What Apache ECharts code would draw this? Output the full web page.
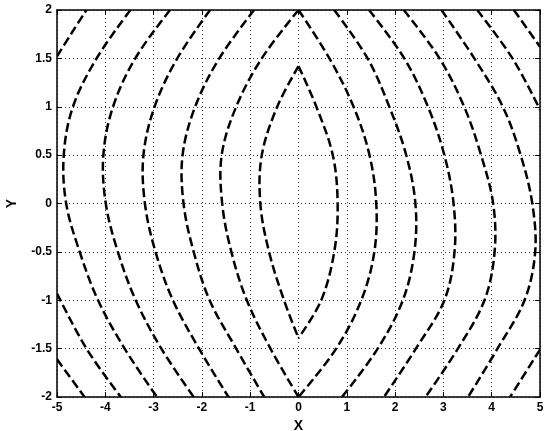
<!DOCTYPE html>
<html>
<head>
<meta charset="utf-8">
<script src="https://cdn.jsdelivr.net/npm/echarts@6/dist/echarts.min.js"></script>
<style>
  html, body { margin: 0; padding: 0; background: #fff; }
  #chart { width: 544px; height: 431px; }
</style>
</head>
<body>
<div id="chart"></div>
<script>
// contour lines, as [x, y] points
const lensLeft  = [[0, 1.42], [-0.44, 1], [-0.76, 0.5], [-0.79, 0], [-0.61, -0.5], [-0.30, -1], [0, -1.39]];
const lensRight = [[0, 1.42], [0.37, 1], [0.71, 0.5], [0.81, 0], [0.74, -0.5], [0.47, -1], [0, -1.39]];
const left2  = [[0, 2], [-0.76, 1.5], [-1.29, 1], [-1.59, 0.5], [-1.58, 0], [-1.39, -0.5], [-1.07, -1], [-0.58, -1.5], [0, -2]];
const right2 = [[0, 2], [0.64, 1.5], [1.14, 1], [1.47, 0.5], [1.61, 0], [1.57, -0.5], [1.30, -1], [0.78, -1.5], [0, -2]];
const left3  = [[-0.92, 2], [-1.64, 1.5], [-2.14, 1], [-2.40, 0.5], [-2.38, 0], [-2.17, -0.5], [-1.84, -1], [-1.29, -1.5], [-0.71, -2]];
const right3 = [[0.74, 2], [1.43, 1.5], [1.88, 1], [2.23, 0.5], [2.42, 0], [2.40, -0.5], [2.16, -1], [1.64, -1.5], [0.90, -2]];
const left4  = [[-1.83, 2], [-2.51, 1.5], [-2.98, 1], [-3.21, 0.5], [-3.18, 0], [-2.96, -0.5], [-2.60, -1], [-2.06, -1.5], [-1.45, -2]];
const right4 = [[1.46, 2], [2.19, 1.5], [2.68, 1], [3.02, 0.5], [3.21, 0], [3.23, -0.5], [3.02, -1], [2.43, -1.5], [1.77, -2]];
const left5  = [[-2.66, 2], [-3.38, 1.5], [-3.84, 1], [-4.04, 0.5], [-3.99, 0], [-3.74, -0.5], [-3.37, -1], [-2.84, -1.5], [-2.17, -2]];
const right5 = [[2.18, 2], [2.92, 1.5], [3.43, 1], [3.78, 0.5], [4.03, 0], [4.06, -0.5], [3.85, -1], [3.30, -1.5], [2.63, -2]];
const left6  = [[-3.48, 2], [-4.18, 1.5], [-4.67, 1], [-4.86, 0.5], [-4.81, 0], [-4.53, -0.5], [-4.15, -1], [-3.60, -1.5], [-2.93, -2]];
const right6 = [[2.96, 2], [3.64, 1.5], [4.23, 1], [4.60, 0.5], [4.84, 0], [4.90, -0.5], [4.68, -1], [4.12, -1.5], [3.51, -2]];
const left7top    = [[-5, 1.52], [-4.70, 1.76], [-4.39, 2]];
const left7bottom = [[-5, -0.93], [-4.39, -1.5], [-3.68, -2]];
const right7top    = [[3.70, 2], [4.43, 1.5], [5, 0.97]];
const right7bottom = [[5, -1.51], [4.38, -2]];
const left8  = [[-5, -1.61], [-4.43, -2]];
const right8 = [[4.46, 2], [5, 1.62]];

const curves = [lensLeft, lensRight, left2, right2, left3, right3, left4, right4,
  left5, right5, left6, right6, left7top, left7bottom, right7top, right7bottom, left8, right8];

const xTicks = { min: -5, max: 5, step: 1 };
const yTicks = { min: -2, max: 2, step: 0.5 };

const font = 'Liberation Sans, Arial, sans-serif';
const myChart = echarts.init(document.getElementById('chart'));

const grid = { left: 57, right: 4, top: 10, bottom: 34, containLabel: false, outerBoundsMode: 'none' };
const tickStyle = { show: true, inside: true, length: 5, lineStyle: { color: '#000', width: 1 } };
const boxLine = { show: true, onZero: false, lineStyle: { color: '#000', width: 1.5 } };
const dotted = { show: true, lineStyle: { color: '#333', width: 1, type: [1, 3] } };
const labelStyle = { color: '#000', fontFamily: font, fontWeight: 'bold', fontSize: 12 };

// one smooth dashed path per contour piece, placed through the grid's own axes
function contourSeries(pts) {
  return {
    type: 'custom',
    coordinateSystem: 'cartesian2d',
    clip: true,
    silent: true,
    data: pts,
    encode: { x: 0, y: 1 },
    renderItem: function (params, api) {
      if (params.dataIndex !== 0) return null;
      return {
        type: 'polyline',
        shape: { points: pts.map(function (p) { return api.coord(p); }), smooth: 0.35 },
        style: { stroke: '#000', fill: null, lineWidth: 2.5, lineDash: [9, 4] }
      };
    }
  };
}

const option = {
  animation: false,
  backgroundColor: '#fff',
  grid: grid,
  xAxis: [
    {
      type: 'value', min: xTicks.min, max: xTicks.max, interval: xTicks.step, position: 'bottom',
      name: 'X', nameLocation: 'middle', nameGap: 21,
      nameTextStyle: { color: '#000', fontFamily: font, fontWeight: 'bold', fontSize: 14 },
      axisLine: boxLine, axisTick: tickStyle, splitLine: dotted,
      axisLabel: Object.assign({ margin: 5 }, labelStyle)
    },
    {
      type: 'value', min: xTicks.min, max: xTicks.max, interval: xTicks.step, position: 'top',
      axisLine: boxLine, axisTick: tickStyle, splitLine: { show: false }, axisLabel: { show: false }
    }
  ],
  yAxis: [
    {
      type: 'value', min: yTicks.min, max: yTicks.max, interval: yTicks.step, position: 'left',
      name: 'Y', nameLocation: 'middle', nameGap: 38, nameRotate: 90,
      nameTextStyle: { color: '#000', fontFamily: font, fontWeight: 'bold', fontSize: 14 },
      axisLine: boxLine, axisTick: tickStyle, splitLine: dotted,
      axisLabel: Object.assign({ margin: 5 }, labelStyle)
    },
    {
      type: 'value', min: yTicks.min, max: yTicks.max, interval: yTicks.step, position: 'right',
      axisLine: boxLine, axisTick: tickStyle, splitLine: { show: false }, axisLabel: { show: false }
    }
  ],
  series: curves.map(contourSeries)
};

myChart.setOption(option);
</script>
</body>
</html>
